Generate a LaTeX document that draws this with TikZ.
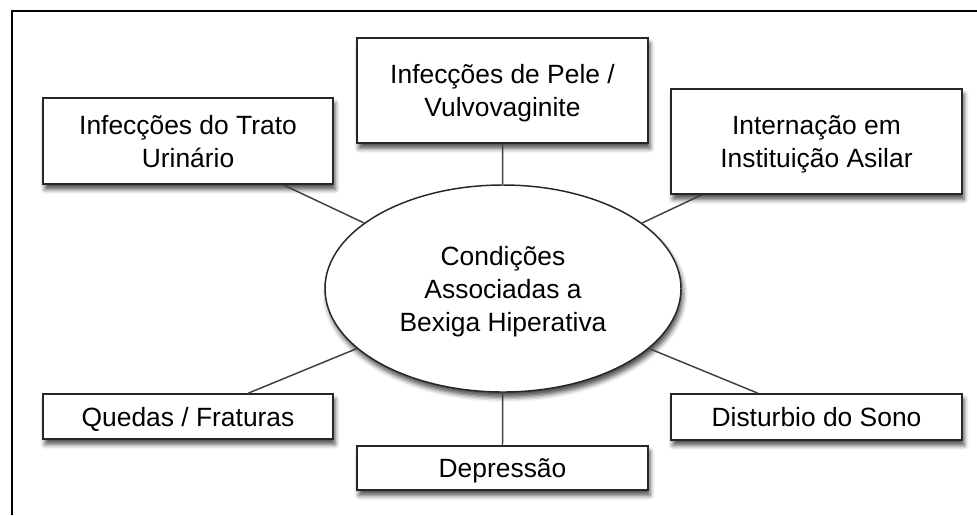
\documentclass[tikz,border=0pt]{standalone}
\usepackage{fontspec}
\setmainfont{Liberation Sans}
\usetikzlibrary{shapes.geometric,calc,shadows.blur}
\begin{document}
\begin{tikzpicture}[x=0.75pt,y=-0.75pt,
  lbl/.style={font=\fontsize{19.8}{24.75}\selectfont, align=center, text=black, text depth=0pt},
  shad/.style={blur shadow={shadow xshift=1.5pt, shadow yshift=-4pt, shadow blur radius=3.5pt, shadow opacity=70}},
  box/.style={lbl, draw=black!85, line width=1.1pt, fill=white, inner sep=0pt, shad},
  ellbox/.style={lbl, ellipse, draw=black!85, line width=1.1pt, fill=white, inner sep=0pt,
    minimum width=267pt, minimum height=155.25pt, shad},
  conn/.style={draw=black!75, line width=1.1pt},
  frame/.style={draw=black, line width=1.6pt}]
\useasboundingbox (0,0) rectangle (977,515);
\draw[frame] (12,515) -- (12,11) -- (977,11);
% central ellipse
\node[ellbox] (ell) at (503,288.5) {Condições\\Associadas a\\Bexiga Hiperativa};
% boxes
\node[box, minimum width=217.5pt, minimum height=64.5pt] (uti) at (188,141) {Infecções do Trato\\Urinário};
\node[box, minimum width=218.25pt, minimum height=78.75pt] (pele) at (502.5,90.5) {Infecções de Pele /\\Vulvovaginite};
\node[box, minimum width=218.25pt, minimum height=78.75pt] (asilar) at (816.5,141.5) {Internação em\\Instituição Asilar};
\node[box, minimum width=217.5pt, minimum height=33.75pt] (quedas) at (188,416.5) {Quedas / Fraturas};
\node[box, minimum width=218.25pt, minimum height=33pt] (depr) at (502.5,468) {Depressão};
\node[box, minimum width=218.25pt, minimum height=34.5pt] (sono) at (816.5,417) {Disturbio do Sono};
% connectors
\draw[conn] (pele.south) -- (ell);
\draw[conn] (depr.north) -- (ell);
\draw[conn] ($(uti.south)+(95,0)$) -- (ell);
\draw[conn] ($(asilar.south)+(-114.5,0)$) -- (ell);
\draw[conn] ($(quedas.north)+(60,0)$) -- (ell);
\draw[conn] ($(sono.north)+(-58.5,0)$) -- (ell);
\end{tikzpicture}
\end{document}
